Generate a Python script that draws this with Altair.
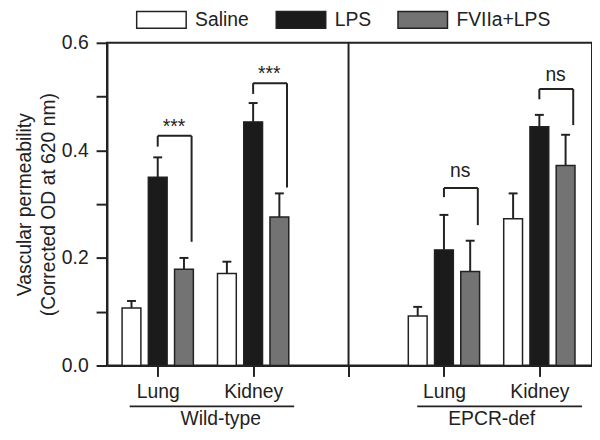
import altair as alt
import pandas as pd

# ---- data ----
tissues = ["Lung", "Kidney", "Lung", "Kidney"]
genotypes = ["Wild-type", "Wild-type", "EPCR-def", "EPCR-def"]
positions = [1, 2, 4, 5]
series = ["Saline", "LPS", "FVIIa+LPS"]
series_offsets = [-0.275, 0.0, 0.275]
colors = ["#ffffff", "#1b1b1b", "#737373"]

saline_mean = [0.107, 0.171, 0.092, 0.273]
saline_sem = [0.013, 0.022, 0.017, 0.047]
lps_mean = [0.350, 0.453, 0.215, 0.444]
lps_sem = [0.037, 0.035, 0.065, 0.022]
fviia_mean = [0.179, 0.276, 0.175, 0.372]
fviia_sem = [0.021, 0.044, 0.057, 0.057]

sig_labels = ["***", "***", "ns", "ns"]
bracket_top = [0.427, 0.525, 0.330, 0.514]
bracket_left_end = [0.407, 0.505, 0.313, 0.495]
bracket_right_end = [0.230, 0.331, 0.261, 0.447]
sig_label_y = [0.433, 0.531, 0.350, 0.529]

divider_pos = [3]
genotype_names = ["Wild-type", "EPCR-def"]
genotype_centers = [1.66, 4.50]
genotype_span_start = [0.706, 3.72]
genotype_span_end = [2.43, 5.447]

FONT = "Liberation Sans"
FS = 19.5
INK = "#222222"

# ---- tables ----
means = [saline_mean, lps_mean, fviia_mean]
sems = [saline_sem, lps_sem, fviia_sem]
rows = []
for gi, p in enumerate(positions):
    for si, s in enumerate(series):
        m = means[si][gi]
        rows.append({"x": p + series_offsets[si], "value": m,
                     "top": m + sems[si][gi], "series": s,
                     "tissue": tissues[gi], "genotype": genotypes[gi]})
bars_df = pd.DataFrame(rows)

seg_rows = []
lab_rows = []
for gi, p in enumerate(positions):
    xl = p
    xr = p + 0.355
    seg_rows.append({"x": xl, "x2": xr, "y": bracket_top[gi], "y2": bracket_top[gi]})
    seg_rows.append({"x": xl, "x2": xl, "y": bracket_top[gi], "y2": bracket_left_end[gi]})
    seg_rows.append({"x": xr, "x2": xr, "y": bracket_top[gi], "y2": bracket_right_end[gi]})
    lab_rows.append({"x": p + 0.17, "y": sig_label_y[gi], "text": sig_labels[gi]})
seg_df = pd.DataFrame(seg_rows)
lab_df = pd.DataFrame(lab_rows)

geno_df = pd.DataFrame({"name": genotype_names, "x": genotype_centers,
                        "x1": genotype_span_start, "x2": genotype_span_end,
                        "yline": [-0.076] * 2, "ytext": [-0.1105] * 2})
div_df = pd.DataFrame({"x": divider_pos, "y0": [0.0], "y1": [0.6]})

xs = alt.Scale(domain=[0.52, 5.5], nice=False, zero=False)
ys = alt.Scale(domain=[0, 0.6], nice=False)

label_map = " : ".join(
    f"datum.value == {p} ? '{t}'" for p, t in zip(positions, tissues)) + " : ''"

x_axis = alt.Axis(values=[1, 2, 3, 4, 5], labelExpr=label_map, title=None,
                  grid=False, tickSize=11, tickColor=INK, tickWidth=2,
                  domainColor=INK, domainWidth=2, labelFontSize=FS,
                  labelColor=INK, labelPadding=6, labelFont=FONT,
                  labelFlush=False, labelOverlap=False)
y_axis = alt.Axis(values=[0, 0.1, 0.2, 0.3, 0.4, 0.5, 0.6],
                  labelExpr="round(datum.value*10) % 2 == 0 ? format(datum.value, '.1f') : ''",
                  title=["Vascular permeability", "(Corrected OD at 620 nm)"],
                  titleFontSize=FS, titleFontWeight="normal", titleFont=FONT,
                  titleColor=INK, titleLineHeight=24, titlePadding=3,
                  grid=False, tickSize=11, tickColor=INK, tickWidth=2,
                  domainColor=INK, domainWidth=2, labelFontSize=FS,
                  labelColor=INK, labelPadding=8, labelFont=FONT)


def X(field):
    return alt.X(field, type="quantitative", scale=xs, axis=x_axis)


def Y(field):
    return alt.Y(field, type="quantitative", scale=ys, axis=y_axis)


bars = alt.Chart(bars_df).mark_bar(size=19, stroke=INK, strokeWidth=1.5).encode(
    x=X("x"),
    y=Y("value"),
    fill=alt.Fill("series:N",
                  scale=alt.Scale(domain=series, range=colors),
                  sort=series,
                  legend=alt.Legend(orient="none", legendX=29, legendY=-49.5,
                                    direction="horizontal", title=None,
                                    symbolType="M-1,-0.34H1V0.34H-1Z",
                                    symbolSize=2500, symbolStrokeColor=INK,
                                    symbolStrokeWidth=1.5, symbolOpacity=1,
                                    labelFontSize=FS, labelFont=FONT,
                                    labelColor=INK, labelOffset=8,
                                    columnPadding=24, padding=0)),
)

err = alt.Chart(bars_df).mark_rule(color=INK, strokeWidth=2).encode(
    x=X("x"), y=Y("value"), y2="top:Q",
)
caps = alt.Chart(bars_df).mark_tick(orient="horizontal", size=9, thickness=2,
                                     color=INK, opacity=1).encode(
    x=X("x"), y=Y("top"),
)

brackets = alt.Chart(seg_df).mark_rule(color=INK, strokeWidth=2).encode(
    x=X("x"), x2="x2:Q", y=Y("y"), y2="y2:Q",
)
sig = alt.Chart(lab_df).mark_text(font=FONT, fontSize=FS, color=INK,
                                  baseline="alphabetic", align="center").encode(
    x=X("x"), y=Y("y"), text="text:N",
)

divider = alt.Chart(div_df).mark_rule(color=INK, strokeWidth=2).encode(
    x=X("x"), y=Y("y0"), y2="y1:Q",
)

geno_lines = alt.Chart(geno_df).mark_rule(color=INK, strokeWidth=2).encode(
    x=X("x1"), x2="x2:Q", y=Y("yline"),
)
geno_text = alt.Chart(geno_df).mark_text(font=FONT, fontSize=FS, color=INK,
                                         baseline="alphabetic", align="center").encode(
    x=X("x"), y=Y("ytext"), text="name:N",
)

chart = alt.layer(bars, err, caps, brackets, sig, divider, geno_lines, geno_text).properties(
    width=490, height=326,
    autosize=alt.AutoSizeParams(type="none"),
    padding={"left": 100, "top": 33, "right": 0, "bottom": 64},
).configure(font=FONT, view=alt.ViewConfig(stroke=INK, strokeWidth=2))

chart.save("out.html", embed_options={"renderer": "svg", "actions": False})
